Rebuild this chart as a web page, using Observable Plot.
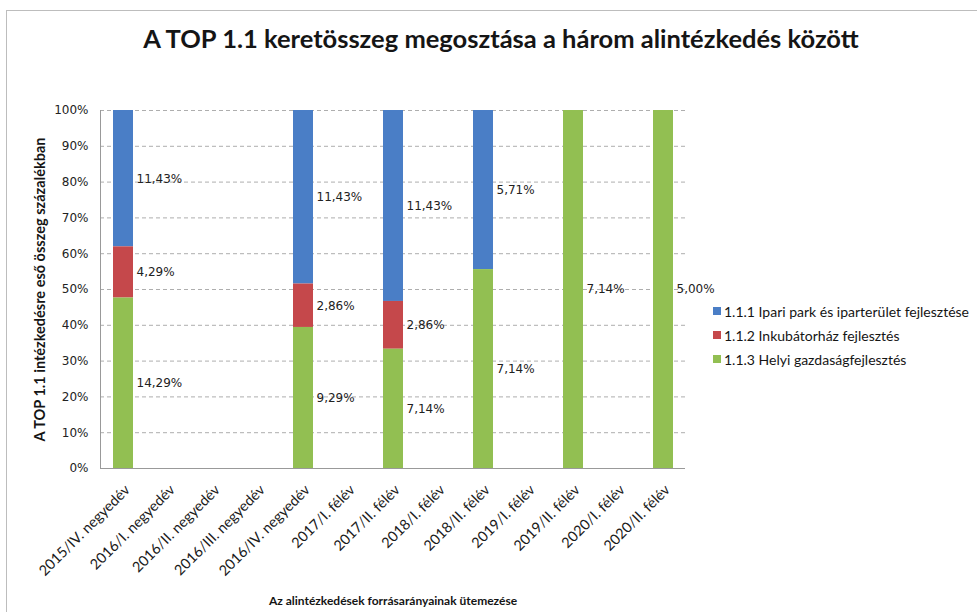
<!DOCTYPE html>
<html><head><meta charset="utf-8">
<script src="https://cdn.jsdelivr.net/npm/d3@7"></script>
<script src="https://cdn.jsdelivr.net/npm/@observablehq/plot@0.6"></script>
<style>
body{margin:0;background:#fff;}
#wrap{position:relative;width:977px;height:612px;overflow:hidden;font-family:Lato,sans-serif;background:#fff;}
#frame{position:absolute;left:6px;top:10px;width:990px;height:620px;border:1px solid #bdbdbd;}
#title{position:absolute;top:23px;left:0;width:1002px;text-align:center;font-weight:bold;font-size:25.5px;font-family:Lato,sans-serif;color:#151515;}
#legend{position:absolute;left:713px;top:299px;font-size:14px;font-family:Lato,sans-serif;color:#151515;}
.item{display:flex;align-items:center;height:24px;white-space:nowrap;}
.sw{width:8px;height:8px;margin-right:3px;flex:none;}
#chart{position:absolute;left:0;top:0;}
</style></head><body>
<div id="wrap"><div id="frame"></div><div id="chart"></div><div id="title"></div><div id="legend"></div></div>
<script>
const titleText = "A TOP 1.1 keretösszeg megosztása a három alintézkedés között";
const yTitle = "A TOP 1.1 intézkedésre eső összeg százalékban";
const xTitle = "Az alintézkedések forrásarányainak ütemezése";
const categories = ["2015/IV. negyedév","2016/I. negyedév","2016/II. negyedév","2016/III. negyedév","2016/IV. negyedév","2017/I. félév","2017/II. félév","2018/I. félév","2018/II. félév","2019/I. félév","2019/II. félév","2020/I. félév","2020/II. félév"];
const seriesNames = ["1.1.1 Ipari park és iparterület fejlesztése","1.1.2 Inkubátorház fejlesztés","1.1.3 Helyi gazdaságfejlesztés"];
const colors = ["#4a7ec6","#c5484b","#92bf52"];
const ipari     = [11.43, null, null, null, 11.43, null, 11.43, null, 5.71, null, null, null, null];
const inkubator = [4.29,  null, null, null, 2.86,  null, 2.86,  null, null, null, null, null, null];
const helyi     = [14.29, null, null, null, 9.29,  null, 7.14,  null, 7.14, null, 7.14, null, 5.00];
const yTicks = [0,0.1,0.2,0.3,0.4,0.5,0.6,0.7,0.8,0.9,1];

const seriesValues = [ipari, inkubator, helyi];
const stackOrder = [seriesNames[2], seriesNames[1], seriesNames[0]];
const rows = [];
categories.forEach((c, i) => {
  seriesNames.forEach((s, k) => {
    const v = seriesValues[k][i];
    if (v != null) rows.push({category: c, series: s, value: v});
  });
});
const fmt = v => v.toFixed(2).replace(".", ",") + "%";

document.getElementById("title").textContent = titleText;
const legend = document.getElementById("legend");
seriesNames.forEach((s, k) => {
  const it = document.createElement("div"); it.className = "item";
  const sw = document.createElement("span"); sw.className = "sw"; sw.style.background = colors[k];
  const tx = document.createElement("span"); tx.textContent = s;
  it.appendChild(sw); it.appendChild(tx); legend.appendChild(it);
});

const stk = extra => Plot.stackY({x: "category", y: "value", z: "series", offset: "normalize", order: stackOrder, ...extra});

const chart = Plot.plot({
  width: 977, height: 612,
  marginLeft: 100, marginRight: 292, marginTop: 110, marginBottom: 144,
  style: {fontFamily: "Lato, sans-serif", fontSize: "12px", color: "#222", background: "transparent"},
  x: {domain: categories, paddingInner: 0.56, paddingOuter: 0.28, label: null},
  y: {domain: [0, 1], label: null},
  color: {domain: seriesNames, range: colors},
  marks: [
    Plot.gridY(yTicks, {stroke: "#9a9a9a", strokeOpacity: 0.8, strokeDasharray: "4,3"}),
    Plot.barY(rows, stk({fill: "series"})),
    Plot.text(rows, stk({text: d => fmt(d.value), textAnchor: "start", dx: 13, fontFamily: "DejaVu Sans", fontSize: 12, fill: "#222"})),
    Plot.ruleY([0], {stroke: "#999"}),
    Plot.frame({anchor: "left", stroke: "#999"}),
    Plot.axisY(yTicks, {tickFormat: d3.format(".0%"), tickSize: 0, tickPadding: 12, fontFamily: "DejaVu Sans", fontSize: 12, label: null}),
    Plot.axisX({tickRotate: -45, tickSize: 0, tickPadding: 19, dx: 4, fontFamily: "Lato, sans-serif", fontSize: 14.5, fill: "#1a1a1a", label: null}),
    Plot.text([yTitle], {frameAnchor: "left", textAnchor: "middle", rotate: -90, dx: -60, fontWeight: "bold", fontSize: 14.5, fontFamily: "Lato, sans-serif", fill: "#151515"}),
    Plot.text([xTitle], {frameAnchor: "bottom", dy: 136, fontWeight: "bold", fontSize: 12, fontFamily: "Lato, sans-serif", fill: "#151515"})
  ]
});
document.getElementById("chart").appendChild(chart);
</script>
</body></html>
